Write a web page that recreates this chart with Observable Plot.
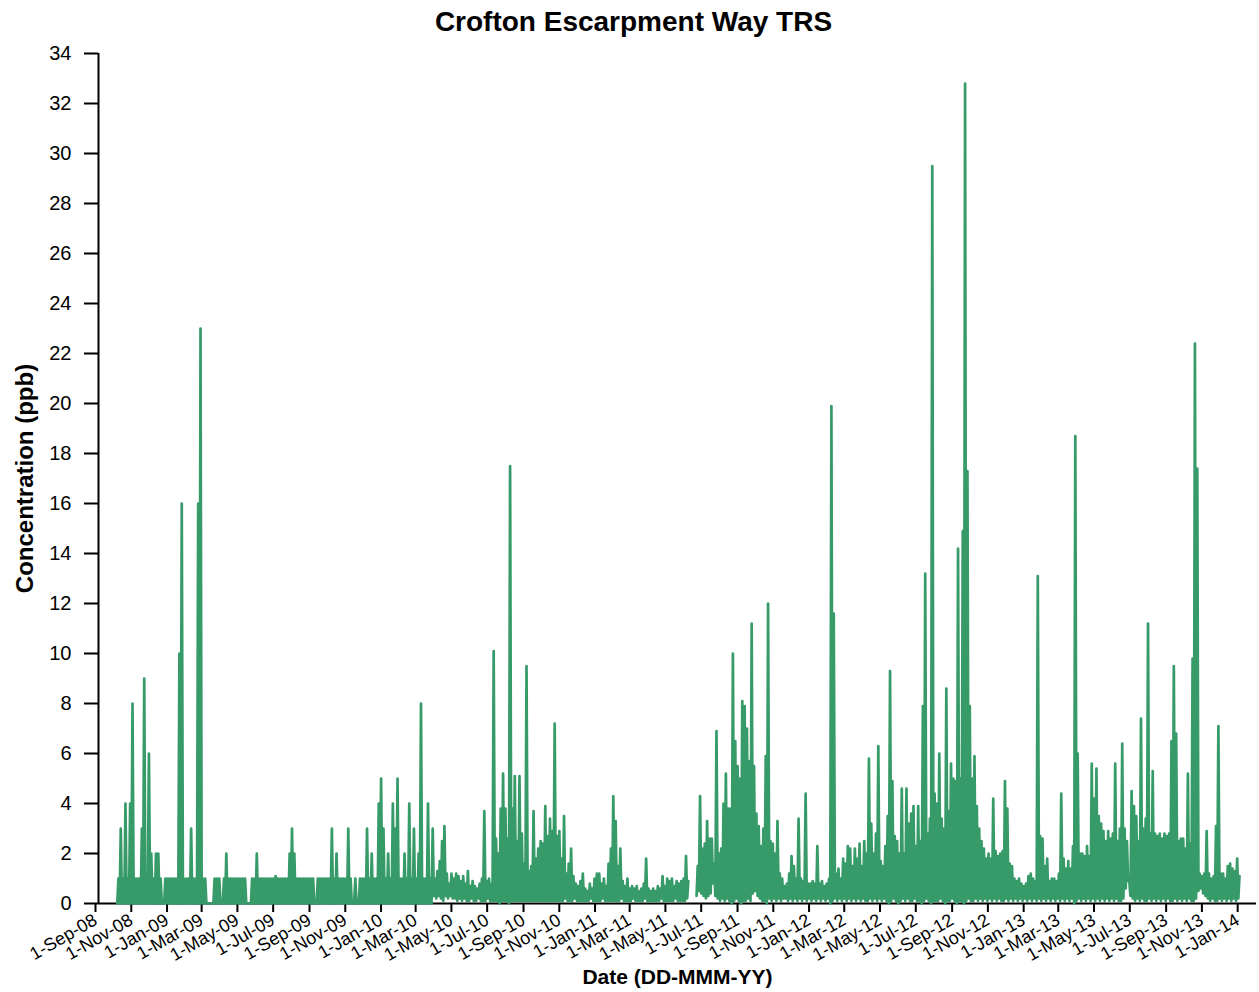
<!DOCTYPE html>
<html><head><meta charset="utf-8">
<script src="https://cdn.jsdelivr.net/npm/d3@7"></script>
<script src="https://cdn.jsdelivr.net/npm/@observablehq/plot@0.6"></script>
<style>
body{margin:0;background:#fff;font-family:"Liberation Sans",Arial,sans-serif;}
#title{height:44px;line-height:44px;text-align:center;font-weight:bold;font-size:28px;color:#000;padding-left:8px;box-sizing:border-box;width:1259px;}
#chart svg{display:block;}
</style></head><body>
<div id="title"></div>
<div id="chart"></div>
<script>
const chartTitle = "Crofton Escarpment Way TRS";
const yLabel = "Concentration (ppb)";
const xLabel = "Date (DD-MMM-YY)";
const lineColor = "#379b69";

// x tick labels (every two months)
const tickLabels = ["1-Sep-08","1-Nov-08","1-Jan-09","1-Mar-09","1-May-09","1-Jul-09","1-Sep-09","1-Nov-09",
  "1-Jan-10","1-Mar-10","1-May-10","1-Jul-10","1-Sep-10","1-Nov-10","1-Jan-11","1-Mar-11","1-May-11","1-Jul-11",
  "1-Sep-11","1-Nov-11","1-Jan-12","1-Mar-12","1-May-12","1-Jul-12","1-Sep-12","1-Nov-12","1-Jan-13","1-Mar-13",
  "1-May-13","1-Jul-13","1-Sep-13","1-Nov-13","1-Jan-14"];
const yTicks = [0,2,4,6,8,10,12,14,16,18,20,22,24,26,28,30,32,34];

// readings: one 4-day slot each, starting 3-Oct-2008; upper and lower envelope of each slot (ppb)
const slotStart = "2008-10-03";
const slotDays = 4;
const slotHigh = `
1 3 1 4 1 4 8 1 1 1
3 9 1 6 2 1 2 2 1 0
1 1 1 1 1 1 10 16 1 1
1 3 1 1 16 23 1 1 0 0
0 1 1 1 0 1 2 1 1 1
1 1 1 1 1 0 0 1 1 2
1 1 1 1 1 1 1 1.1 1 1
1 1 1 2 3 2 1 1 1 1
1 1 1 1 0 1 1 1 1 1
1 3 1 2 1 1 1 1 3 1
0 1 0 1 1 1 3 1 2 1
1 4 5 3 1 2 1 4 3 5
1 1 2 1 4 1 3 1 2 8
1 1 4 1 3
1.0 1.3 1.7 2.5 3.1
1.2 0.8 1.2 1.0 1.2 1.1 0.9 1.1 0.8 1.3
0.7 0.9 0.7 0.6 0.8 1.0 3.7 0.9 1.0 0.8
10.1 2.6 2.0 3.8 5.2 3.8 2.6 17.5 3.8 5.1
2.5 5.1 2.8 1.6 9.5 1.3 1.5 3.7 1.8 2.2
2.5 2.4 3.9 2.7 3.4 2.9 7.2 2.7 2.9 1.8
3.5 1.2 1.6 2.2 1.1 0.8 0.7 0.9 1.2 0.6
0.5 0.8 0.6 1.0 1.2 1.2 0.8 1.0 0.7 1.6
2.2 4.3 3.3 1.5 2.2 0.9 0.7 1.0 0.6 0.7
0.6 0.7 0.5 0.6 0.8 1.8 0.6 0.5 0.6 0.5
0.7 0.6 1.1 0.7 1.0 0.9 1.0 0.7 0.9 0.8
0.9 1.0 1.9 0.9
NaN NaN NaN
1.5 4.3 2.2
2.4 3.3 2.6 2.6 1.6 6.9 2.0 2.2 4.0 5.2
3.8 3.8 10.0 6.5 5.5 5.0 8.1 7.9 7.0 5.7
11.2 5.5 3.6 3.1 2.3 3.0 5.9 12.0 2.5 2.4
2.0 3.3 1.2 1.0 0.7 0.8 1.2 1.9 1.5 1.0
3.4 1.0 0.9 4.4 0.8 0.8 0.9 0.8 2.3 0.8
0.9 0.7 0.8 1.0 19.9 11.6 1.2 1.4 1.0 1.8
1.6 2.3 2.2 1.5 2.2 1.8 2.4 1.5 2.5 2.0
5.8 3.2 2.0 2.8 6.3 1.7 1.5 2.3 3.5 9.3
4.9 2.7 2.5 2.0 4.6 2.0 4.6 3.2 3.6 3.9
2.3 3.9 2.5 7.9 13.2 2.8 3.4 29.5 4.4 4.0
6.0 3.4 3.0 8.6 3.7 5.6 5.0 4.9 14.2 5.0
14.9 32.8 17.3 7.9 5.0 5.9 3.9 3.0 2.5 2.2
1.8 2.0 1.8 4.2 2.1 1.9 2.0 2.1 4.9 3.8
1.6 1.5 1.0 0.9 1.0 0.8 0.7 0.8 1.1 1.2
1.0 0.9 13.1 2.7 2.6 1.5 1.8 0.9 1.0 1.0
0.9 1.2 4.4 1.8 1.4 1.7 1.4 2.3 18.7 6.0
2.0 2.0 1.9 2.3 1.9 5.6 4.2 5.4 3.5 3.2
2.9 2.5 2.9 2.6 2.8 5.6 2.5 3.0 6.4 3.0
2.5 0.9 4.5 3.9 3.5 2.5 7.4 3.0 3.4 11.2
2.8 5.3 2.8 2.7 2.8 2.6 2.8 2.7 2.8 6.5
9.5 6.8 2.5 2.6 2.6 2.2 5.2 2.4 9.8 22.4
17.4 1.2 1.1 1.2 2.9 1.2 1.0 1.1 3.1 7.1
1.2 1.2 1.0 1.5 1.6 1.4 1.3 1.8 1.1`;
const slotLow = `
0 0 0 0 0 0 0 0 0 0
0 0 0 0 0 0 0 0 0 0
0 0 0 0 0 0 0 0 0 0
0 0 0 0 0 0 0 0 0 0
0 0 0 0 0 0 0 0 0 0
0 0 0 0 0 0 0 0 0 0
0 0 0 0 0 0 0 0 0 0
0 0 0 0 0 0 0 0 0 0
0 0 0 0 0 0 0 0 0 0
0 0 0 0 0 0 0 0 0 0
0 0 0 0 0 0 0 0 0 0
0 0 0 0 0 0 0 0 0 0
0 0 0 0 0 0 0 0 0 0
0 0 0 0 0
0.3 0.2 0.3 0.2 0.1
0.3 0.2 0.3 0.2 0.2 0.1 0.2 0.1 0.2 0.1
0.1 0.2 0.1 0.1 0.2 0.1 0.1 0.1 0.2 0.1
0.1 0.1 0.1 0.0 0.1 0.1 0.1 0.0 0.1 0.1
0.1 0.1 0.1 0.1 0.1 0.1 0.1 0.1 0.1 0.1
0.1 0.1 0.1 0.1 0.1 0.1 0.1 0.1 0.1 0.1
0.1 0.2 0.1 0.1 0.1 0.2 0.1 0.1 0.1 0.1
0.1 0.1 0.2 0.1 0.1 0.1 0.1 0.2 0.1 0.1
0.1 0.1 0.1 0.1 0.1 0.2 0.1 0.1 0.1 0.1
0.2 0.1 0.1 0.1 0.1 0.2 0.1 0.1 0.1 0.1
0.1 0.1 0.2 0.1 0.1 0.1 0.1 0.1 0.2 0.1
0.1 0.1 0.1 0.2
NaN NaN NaN
0.3 0.5 0.4
0.3 0.2 0.3 0.4 0.8 0.3 0.2 0.1 0.2 0.1
0.2 0.1 0.0 0.1 0.2 0.1 0.0 0.1 0.1 0.2
0.1 0.4 0.5 0.3 0.2 0.1 0.1 0.0 0.2 0.1
0.2 0.1 0.2 0.1 0.2 0.2 0.1 0.2 0.1 0.2
0.1 0.2 0.1 0.2 0.1 0.2 0.1 0.2 0.1 0.2
0.1 0.2 0.1 0.2 0.0 0.1 0.2 0.1 0.2 0.1
0.2 0.1 0.2 0.1 0.2 0.1 0.2 0.1 0.2 0.1
0.1 0.2 0.1 0.2 0.1 0.2 0.1 0.2 0.1 0.0
0.1 0.2 0.1 0.0 0.1 0.2 0.1 0.2 0.1 0.1
0.2 0.1 0.1 0.0 0.1 0.2 0.1 0.0 0.1 0.1
0.1 0.2 0.1 0.0 0.1 0.1 0.2 0.1 0.0 0.1
0.1 0.0 0.1 0.2 0.1 0.1 0.2 0.1 0.2 0.1
0.2 0.1 0.2 0.1 0.2 0.1 0.2 0.1 0.1 0.2
0.1 0.2 0.1 0.2 0.1 0.2 0.1 0.2 0.1 0.2
0.1 0.2 0.1 0.2 0.1 0.2 0.1 0.2 0.1 0.2
0.1 0.2 0.1 0.2 0.1 0.2 0.1 0.2 0.0 0.1
0.2 0.1 0.2 0.1 0.2 0.1 0.2 0.1 0.2 0.1
0.2 0.1 0.2 0.1 0.2 0.1 0.2 0.1 0.1 0.2
0.6 0.9 0.3 0.2 0.1 0.2 0.1 0.2 0.1 0.1
0.2 0.1 0.2 0.1 0.2 0.1 0.2 0.1 0.2 0.1
0.1 0.2 0.1 0.2 0.1 0.2 0.1 0.2 0.1 0.1
0.2 0.5 0.6 0.4 0.3 0.2 0.1 0.2 0.1 0.1
0.2 0.1 0.2 0.1 0.2 0.1 0.2 0.1 0.2`;

const parseVals = s => s.trim().split(/\s+/).map(v => v === "NaN" ? NaN : +v);
const highs = parseVals(slotHigh), lows = parseVals(slotLow);
const parseTick = d3.utcParse("%d-%b-%y");
const tickDates = tickLabels.map(parseTick);
const fmt = d3.utcFormat("%-d-%b-%y");
const t0 = d3.utcParse("%Y-%m-%d")(slotStart);

const series = [];
highs.forEach((h, k) => {
  series.push({date: d3.utcDay.offset(t0, k * slotDays), value: lows[k]});
  series.push({date: d3.utcDay.offset(t0, k * slotDays + slotDays / 2), value: h});
});

const xStart = tickDates[0];
const xEnd = d3.utcDay.offset(tickDates[tickDates.length - 1], 27);

document.getElementById("title").textContent = chartTitle;

const chart = Plot.plot({
  width: 1259, height: 948,
  marginLeft: 98, marginRight: 3, marginTop: 9, marginBottom: 89,
  style: {fontFamily: '"Liberation Sans", Arial, sans-serif', color: "#000", background: "#fff", overflow: "visible"},
  x: {type: "utc", domain: [xStart, xEnd]},
  y: {domain: [0, 34]},
  marks: [
    Plot.axisY(yTicks, {tickSize: 14, tickPadding: 13, fontSize: 20, strokeWidth: 2, label: null}),
    Plot.axisX(tickDates, {tickSize: 9, tickRotate: -30, tickPadding: 6, dx: -3, fontSize: 18, strokeWidth: 2, tickFormat: fmt, label: null}),
    Plot.ruleX([xStart], {y1: 0, y2: 34, strokeWidth: 2}),
    Plot.ruleY([0], {strokeWidth: 2}),
    Plot.line(series, {x: "date", y: "value", stroke: lineColor, strokeWidth: 2.7}),
    Plot.text([yLabel], {text: d => d, frameAnchor: "left", dx: -73, rotate: -90, textAnchor: "middle", lineAnchor: "middle", fontSize: 24, fontWeight: "bold"}),
    Plot.text([xLabel], {text: d => d, frameAnchor: "bottom", dy: 74, textAnchor: "middle", lineAnchor: "middle", fontSize: 21, fontWeight: "bold"})
  ]
});
document.getElementById("chart").appendChild(chart);
</script>
</body></html>
